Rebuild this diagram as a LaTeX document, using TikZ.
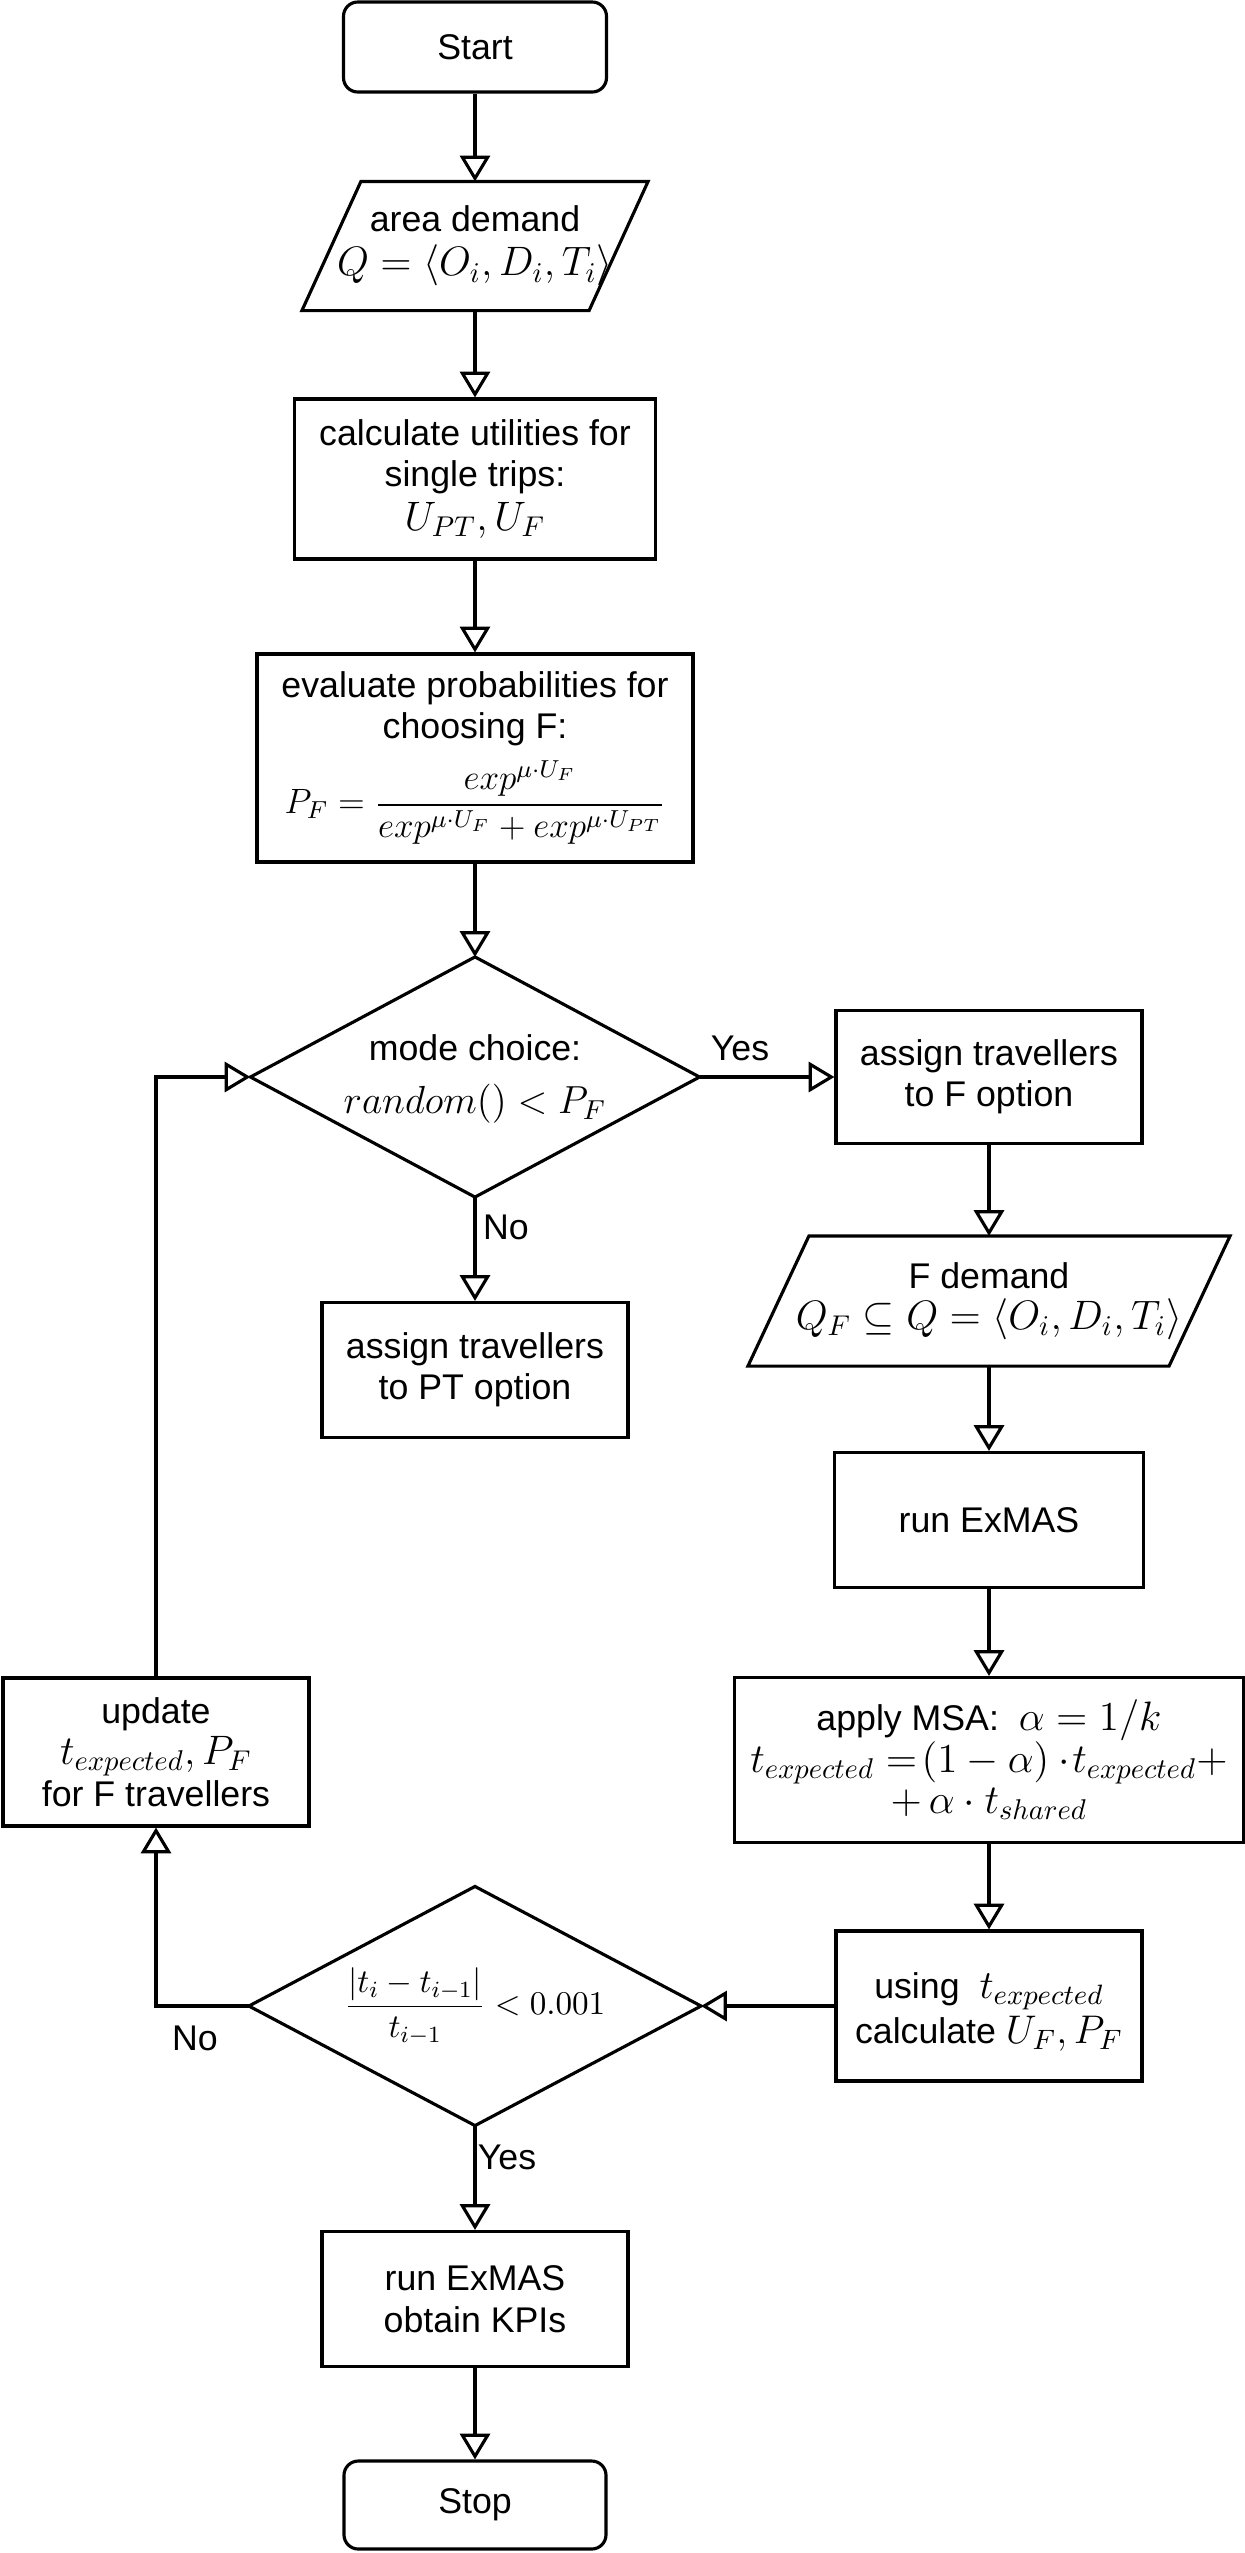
\RequirePackage{fix-cm}
\documentclass[tikz,border=0pt]{standalone}
\usepackage{amsmath}
\usepackage[no-math]{fontspec}
\setmainfont{Liberation Sans}
\usetikzlibrary{arrows.meta,calc}
\newcommand\mth[1]{{\fontsize{14.4}{16}\selectfont$#1$}}
\newcommand\mths[2]{{\fontsize{#1}{16}\selectfont$#2$}}
\begin{document}
\begin{tikzpicture}[x=0.35pt, y=-0.35pt,
  every node/.style={font=\fontsize{12.5}{14.5}\selectfont, align=center, inner sep=0pt},
  line/.style={line width=1.1pt},
  arr/.style={line width=1.1pt, -{Triangle[open, length=9pt, width=10.5pt]}},
  box/.style={draw, line width=1.1pt},
  term/.style={draw, line width=1.1pt, rounded corners=5pt},
  wh/.style 2 args={minimum width=#1*0.35pt, minimum height=#2*0.35pt}]
\useasboundingbox (0,0) rectangle (1245,2553);

% main column
\node[term, wh={263}{90}] (start) at (475,47) {Start};
\node[wh={345}{128}] (area) at (475,246) {area demand\\[1pt]\mth{Q=\langle O_i,D_i,T_i\rangle}};
\draw[line] ($(area.north west)+(59,0)$) -- (area.north east) -- ($(area.south east)+(-59,0)$) -- (area.south west) -- cycle;
\node[box, wh={361}{160}] (calc) at (475,479) {calculate utilities for\\single trips:\\[1pt]\mth{U_{PT},U_F}};
\node[box, wh={436}{208}] (eval) at (475,758) {evaluate probabilities for\\choosing F:\\[4pt]\mths{12.3}{P_F=\dfrac{exp^{\mu\cdot U_F}}{exp^{\mu\cdot U_F}+exp^{\mu\cdot U_{PT}}}}};
\node[wh={448}{239}] (mode) at (475,1077) {};
\node (modetxt) at (475,1079) {mode choice:\\[4pt]\mths{13.7}{random()<P_F}};
\draw[line] (mode.north) -- (mode.east) -- (mode.south) -- (mode.west) -- cycle;
\node[box, wh={306}{135}] (pt) at (475,1370) {assign travellers\\to PT option};
\node[wh={451}{238}] (conv) at (475,2006) {\mths{11.6}{\dfrac{|t_i-t_{i-1}|}{t_{i-1}}<0.001}};
\draw[line] (conv.north) -- (conv.east) -- (conv.south) -- (conv.west) -- cycle;
\node[box, wh={306}{135}] (kpi) at (475,2299) {run ExMAS\\obtain KPIs};
\node[term, wh={262}{88}] (stop) at (475,2505) {Stop};

% right column
\node[box, wh={306}{133}] (fopt) at (989,1077) {assign travellers\\to F option};
\node[wh={481}{129}] (fdem) at (989,1301) {F demand\\[0pt]\mth{Q_F\subseteq Q=\langle O_i,D_i,T_i\rangle}};
\draw[line] ($(fdem.north west)+(61,0)$) -- (fdem.north east) -- ($(fdem.south east)+(-61,0)$) -- (fdem.south west) -- cycle;
\node[box, wh={309}{135}] (exmas) at (989,1520) {run ExMAS};
\node[box, wh={509}{165}] (msa) at (989,1760) {apply MSA:~~\mth{\alpha=1/k}\\[0pt]\mth{t_{expected}\mathrel{=}\!(1-\alpha)\cdot\! t_{expected}+}\\[0pt]\mth{+\,\alpha\cdot t_{shared}}};
\node[box, wh={306}{150}] (using) at (989,2006) {};
\node (usingtxt) at (989,2012) {using~~\mths{14}{t_{expected}}\\[1pt]calculate~\mths{14}{U_F,P_F}};

% left column
\node[box, wh={306}{148}] (upd) at (156,1752) {update\\[0pt]\mth{t_{expected},P_F}\\[0pt]for F travellers};

% connectors
\draw[arr] (start) -- (area);
\draw[arr] (area) -- (calc);
\draw[arr] (calc) -- (eval);
\draw[arr] (eval) -- (mode.north);
\draw[arr] (mode.east) -- (fopt);
\draw[arr] (mode.south) -- (pt);
\draw[arr] (fopt) -- (fdem);
\draw[arr] (fdem) -- (exmas);
\draw[arr] (exmas) -- (msa);
\draw[arr] (msa) -- (using);
\draw[arr] (using) -- (conv.east);
\draw[arr] (conv.west) -| (upd.south);
\draw[arr] (upd.north) |- (mode.west);
\draw[arr] (conv.south) -- (kpi);
\draw[arr] (kpi) -- (stop);

% labels
\node (yes1) at (740,1048) {Yes};
\node (no1) at (506,1227) {No};
\node (no2) at (195,2038) {No};
\node (yes2) at (507,2157) {Yes};
\end{tikzpicture}
\end{document}
